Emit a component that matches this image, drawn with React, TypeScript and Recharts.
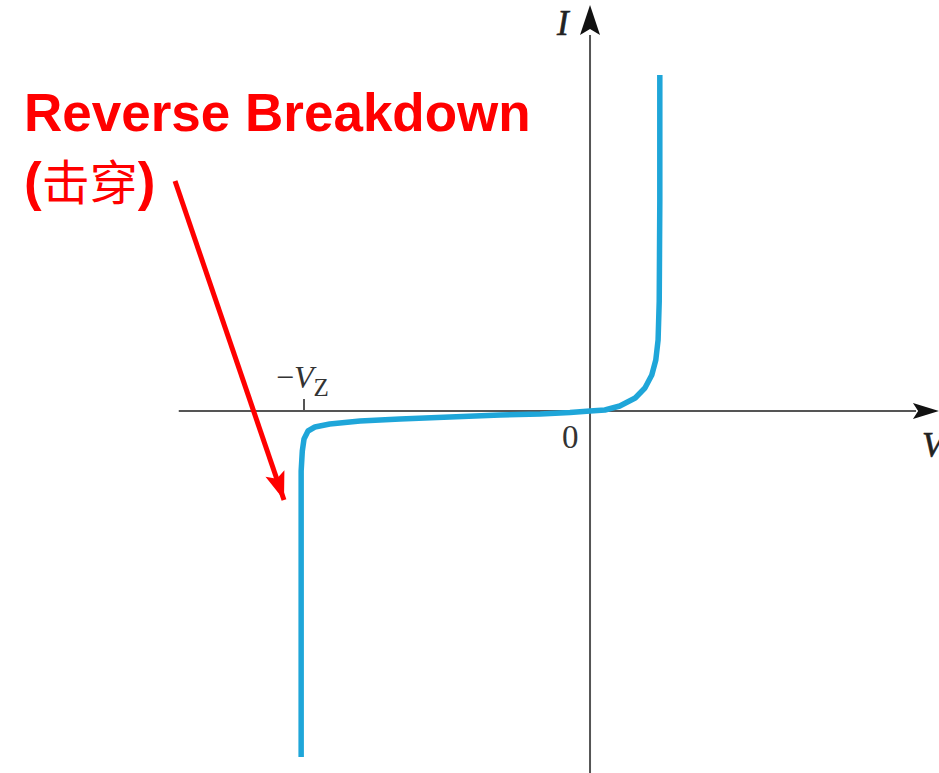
import React from "react";
import {
  LineChart,
  Line,
  XAxis,
  YAxis,
  ReferenceLine,
  ReferenceDot,
} from "recharts";

// Diode I-V curve (V in volts, I in mA).
const voltage = [
  -5.05, -5.05, -5.03, -5.0, -4.93, -4.81, -4.55, -4.02, -3.32, -2.45, -1.57,
  -0.87, -0.35, 0, 0.26, 0.52, 0.79, 0.96, 1.08, 1.15, 1.19, 1.21, 1.22, 1.22,
];
const current = [
  -17.3, -3.0, -2.0, -1.4, -1.0, -0.8, -0.65, -0.5, -0.4, -0.3, -0.2, -0.15,
  -0.075, 0, 0.05, 0.25, 0.65, 1.15, 1.8, 2.55, 3.55, 5.5, 10.5, 16.8,
];
const vz = 5;

const xDomain = [-10.315, 6.101];
const yDomain = [-18.1, 20.55];

// axis extents and the annotation arrow, in data units
const xAxisStart = -7.19;
const xAxisEnd = 5.7;
const xAxisTip = 6.1;
const yAxisEnd = 18.8;
const yAxisTip = 20.3;
const noteStart = { x: -7.255, y: 11.5 };
const noteTip = { x: -5.35, y: -4.45 };

const curve = voltage.map((v, i) => ({ v, i: current[i] }));

const BLUE = "#1fa6d9";
const AXIS = "#555";
const RED = "#ff0000";
const SERIF = "'Liberation Serif', 'DejaVu Serif', serif";

const Arrow = ({ cx, cy, angle, len, half, fill }: any) => {
  const a = (angle * Math.PI) / 180;
  const bx = cx - len * Math.cos(a);
  const by = cy - len * Math.sin(a);
  const nx = -Math.sin(a) * half;
  const ny = Math.cos(a) * half;
  const mx = cx - len * 0.8 * Math.cos(a);
  const my = cy - len * 0.8 * Math.sin(a);
  return (
    <polygon
      points={`${cx},${cy} ${bx + nx},${by + ny} ${mx},${my} ${bx - nx},${by - ny}`}
      fill={fill}
    />
  );
};

const noteAngle = (Math.atan2(319, 109) * 180) / Math.PI;

export default function App() {
  return (
    <div style={{ position: "fixed", left: 0, top: 0, background: "#fff" }}>
      <LineChart
        width={939}
        height={773}
        data={curve}
        margin={{ top: 0, right: 0, bottom: 0, left: 0 }}
      >
        <XAxis dataKey="v" type="number" domain={xDomain} hide allowDataOverflow />
        <YAxis type="number" domain={yDomain} hide allowDataOverflow />

        <ReferenceLine
          segment={[{ x: xAxisStart, y: 0 }, { x: xAxisEnd, y: 0 }]}
          stroke={AXIS}
          strokeWidth={2}
        />
        <ReferenceLine
          segment={[{ x: 0, y: yDomain[0] }, { x: 0, y: yAxisEnd }]}
          stroke={AXIS}
          strokeWidth={2}
        />
        <ReferenceDot
          x={xAxisTip}
          y={0}
          shape={(p: any) => <Arrow cx={p.cx} cy={p.cy} angle={0} len={26} half={8} fill="#111" />}
        />
        <ReferenceDot
          x={0}
          y={yAxisTip}
          shape={(p: any) => <Arrow cx={p.cx} cy={p.cy} angle={-90} len={30} half={10} fill="#111" />}
        />
        <ReferenceLine
          segment={[{ x: -vz, y: 0 }, { x: -vz, y: 0.6 }]}
          stroke={AXIS}
          strokeWidth={2}
        />

        <Line
          dataKey="i"
          type="linear"
          stroke={BLUE}
          strokeWidth={5.5}
          strokeLinejoin="round"
          strokeLinecap="butt"
          dot={false}
          activeDot={false}
          isAnimationActive={false}
        />

        {/* axis labels */}
        <ReferenceDot
          x={0}
          y={yAxisTip}
          shape={(p: any) => (
            <text x={p.cx - 33} y={p.cy + 30} fontFamily={SERIF} fontStyle="italic" fontSize={35} fill="#222" stroke="#222" strokeWidth={0.6}>
              I
            </text>
          )}
        />
        <ReferenceDot
          x={xAxisTip}
          y={0}
          shape={(p: any) => (
            <text x={p.cx - 17} y={p.cy + 46} fontFamily={SERIF} fontStyle="italic" fontSize={35} fill="#222" stroke="#222" strokeWidth={0.6}>
              V
            </text>
          )}
        />
        <ReferenceDot
          x={0}
          y={0}
          shape={(p: any) => (
            <text x={p.cx - 28} y={p.cy + 37} fontFamily={SERIF} fontSize={33} fill="#333">
              0
            </text>
          )}
        />
        <ReferenceDot
          x={-vz}
          y={0}
          shape={(p: any) => (
            <text x={p.cx - 28} y={p.cy - 23} fontFamily={SERIF} fill="#333">
              <tspan fontSize={32}>−</tspan>
              <tspan fontSize={32} fontStyle="italic">V</tspan>
              <tspan fontSize={25} dy={8}>Z</tspan>
            </text>
          )}
        />

        {/* annotation */}
        <ReferenceLine
          segment={[noteStart, noteTip]}
          stroke={RED}
          strokeWidth={5}
        />
        <ReferenceDot
          x={noteTip.x}
          y={noteTip.y}
          shape={(p: any) => <Arrow cx={p.cx} cy={p.cy} angle={noteAngle} len={28} half={10} fill={RED} />}
        />
        <ReferenceDot
          x={noteStart.x}
          y={noteStart.y}
          shape={(p: any) => (
            <text fontFamily="'Liberation Sans', Arial, sans-serif" fill={RED}>
              <tspan x={p.cx - 151} y={p.cy - 50} fontSize={53} fontWeight="bold">
                Reverse Breakdown
              </tspan>
              <tspan x={p.cx - 151} y={p.cy + 19} fontSize={53} fontWeight="bold">(</tspan>
              <tspan fontSize={48} fontFamily="'Noto Sans CJK SC', sans-serif">击穿</tspan>
              <tspan fontSize={53} fontWeight="bold">)</tspan>
            </text>
          )}
        />
      </LineChart>
    </div>
  );
}
